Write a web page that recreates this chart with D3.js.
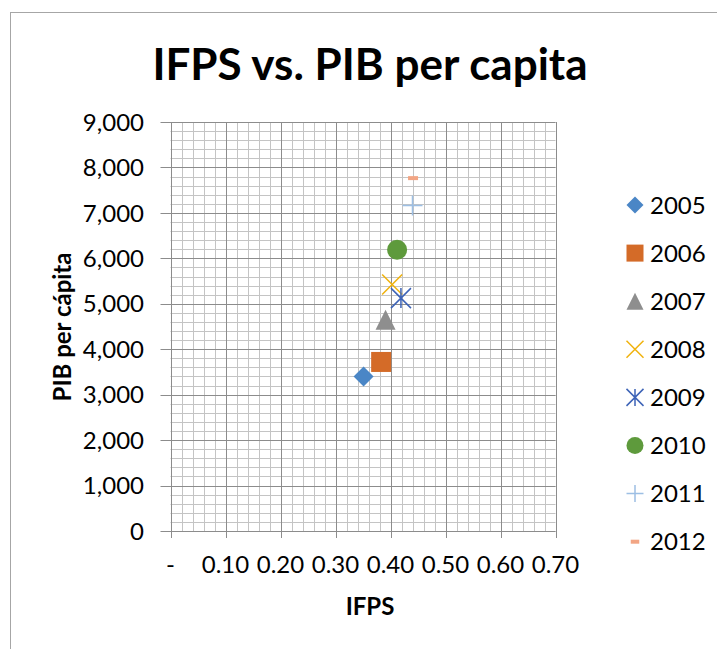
<!DOCTYPE html>
<html>
  <head>
    <title>IFPS vs. PIB per capita</title>
    <script src="https://d3js.org/d3.v7.min.js" charset="utf-8"></script>
    <style type="text/css">
      body { margin: 0; background: #fff; }
      text { font-family: Lato, "Open Sans", sans-serif; fill: #000; }
    </style>
  </head>
  <body>
    <script type="text/javascript">

      // Data
      var years = ["2005", "2006", "2007", "2008", "2009", "2010", "2011", "2012"];
      var ifps = [0.351, 0.383, 0.391, 0.403, 0.419, 0.412, 0.440, 0.441];
      var pib = [3400, 3720, 4650, 5425, 5125, 6190, 7165, 7765];
      var markers = ["diamond", "square", "triangle", "x", "star", "circle", "plus", "dash"];
      var colors = ["#4a86c6", "#d46b28", "#8e8e8e", "#f0b20c", "#3d63b7", "#5e9a3c", "#9dbfe4", "#f2a584"];
      var xTicks = [0, 0.1, 0.2, 0.3, 0.4, 0.5, 0.6, 0.7];
      var yTicks = [0, 1000, 2000, 3000, 4000, 5000, 6000, 7000, 8000, 9000];

      var width = 717;
      var height = 649;
      var svg = d3.select("body")
          .append("svg")
          .attr("width", width)
          .attr("height", height);

      // chart border (runs off the page right and bottom)
      svg.append("rect")
          .attr("x", 10.5)
          .attr("y", 12.5)
          .attr("width", 800)
          .attr("height", 800)
          .style("fill", "none")
          .style("stroke", "#a6a6a6");

      var x = d3.scaleLinear().domain([0, 0.7]).range([170.5, 555.5]);
      var y = d3.scaleLinear().domain([0, 9000]).range([531, 122]);

      // minor grid
      var minorX = d3.range(0, 0.7001, 0.02);
      var minorY = d3.range(0, 9001, 200);
      svg.append("g").selectAll("line").data(minorX).enter().append("line")
          .attr("x1", d => Math.round(x(d)) + 0.5).attr("x2", d => Math.round(x(d)) + 0.5)
          .attr("y1", y(9000)).attr("y2", y(0))
          .style("stroke", "#c4c4c4");
      svg.append("g").selectAll("line").data(minorY).enter().append("line")
          .attr("x1", x(0)).attr("x2", x(0.7))
          .attr("y1", d => Math.round(y(d)) + 0.5).attr("y2", d => Math.round(y(d)) + 0.5)
          .style("stroke", "#c4c4c4");

      // major grid
      svg.append("g").selectAll("line").data(xTicks).enter().append("line")
          .attr("x1", d => Math.round(x(d)) + 0.5).attr("x2", d => Math.round(x(d)) + 0.5)
          .attr("y1", y(9000)).attr("y2", y(0) + 7)
          .style("stroke", "#8c8c8c");
      svg.append("g").selectAll("line").data(yTicks).enter().append("line")
          .attr("x1", x(0) - 10).attr("x2", x(0.7))
          .attr("y1", d => Math.round(y(d)) + 0.5).attr("y2", d => Math.round(y(d)) + 0.5)
          .style("stroke", "#8c8c8c");

      // tick labels
      svg.append("g").selectAll("text").data(yTicks).enter().append("text")
          .attr("x", 144)
          .attr("y", d => y(d))
          .attr("dy", "0.36em")
          .attr("text-anchor", "end")
          .style("font-size", "24px")
          .text(d => d === 0 ? "0" : d3.format(",")(d));

      svg.append("g").selectAll("text").data(xTicks).enter().append("text")
          .attr("x", d => x(d))
          .attr("y", 573)
          .attr("text-anchor", "middle")
          .style("font-size", "24px")
          .text(d => d === 0 ? "-" : d3.format(".2f")(d));

      // titles
      svg.append("text")
          .attr("x", 370)
          .attr("y", 80)
          .attr("text-anchor", "middle")
          .style("font-size", "44px")
          .style("font-weight", "bold")
          .text("IFPS vs. PIB per capita");

      svg.append("text")
          .attr("x", 370)
          .attr("y", 615)
          .attr("text-anchor", "middle")
          .style("font-size", "24px")
          .style("font-weight", "bold")
          .text("IFPS");

      svg.append("text")
          .attr("transform", "translate(71,327) rotate(-90)")
          .attr("text-anchor", "middle")
          .style("font-size", "24px")
          .style("font-weight", "bold")
          .text("PIB per cápita");

      // marker drawing
      function drawMarker(g, type, color, s) {
        var h = s / 2;
        if (type === "diamond") {
          g.append("path").attr("d", `M0,${-h}L${h},0L0,${h}L${-h},0Z`).style("fill", color);
        } else if (type === "square") {
          g.append("rect").attr("x", -h).attr("y", -h).attr("width", s).attr("height", s).style("fill", color);
        } else if (type === "triangle") {
          g.append("path").attr("d", `M0,${-h}L${h},${h}L${-h},${h}Z`).style("fill", color);
        } else if (type === "circle") {
          g.append("circle").attr("r", h).style("fill", color);
        } else if (type === "x") {
          g.append("path").attr("d", `M${-h},${-h}L${h},${h}M${h},${-h}L${-h},${h}`)
              .style("stroke", color).style("stroke-width", 1.5).style("fill", "none");
        } else if (type === "star") {
          g.append("path").attr("d", `M${-h},${-h}L${h},${h}M${h},${-h}L${-h},${h}M0,${-h}L0,${h}`)
              .style("stroke", color).style("stroke-width", 1.5).style("fill", "none");
        } else if (type === "plus") {
          g.append("path").attr("d", `M${-h},0L${h},0M0,${-h}L0,${h}`)
              .style("stroke", color).style("stroke-width", 1.5).style("fill", "none");
        } else if (type === "dash") {
          g.append("rect").attr("x", -h / 2).attr("y", -2).attr("width", h).attr("height", 4).style("fill", color);
        }
      }

      // points
      years.forEach(function(yr, i) {
        var g = svg.append("g").attr("transform", `translate(${x(ifps[i])},${y(pib[i])})`);
        drawMarker(g, markers[i], colors[i], 20);
      });

      // legend
      var legend = svg.append("g");
      years.forEach(function(yr, i) {
        var ly = 205 + i * 48.1;
        var g = legend.append("g").attr("transform", `translate(635,${ly})`);
        drawMarker(g, markers[i], colors[i], 17);
        legend.append("text")
            .attr("x", 650)
            .attr("y", ly)
            .attr("dy", "0.36em")
            .style("font-size", "24px")
            .text(yr);
      });

    </script>
  </body>
</html>
